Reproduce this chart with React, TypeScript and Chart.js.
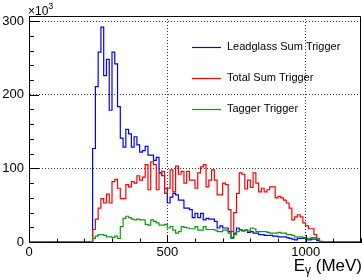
import React, { useEffect, useRef } from "react";
import { Chart, registerables } from "chart.js";

Chart.register(...registerables);

// ---- data (counts in units of 10^3, 10 MeV bins starting at 230 MeV) ----
const BIN_WIDTH_MEV = 10;
const FIRST_BIN_MEV = 230;
const X_MIN = 0;
const X_MAX = 1200;
const Y_MIN = 0;
const Y_MAX = 307;
const X_TICKS = [0, 500, 1000];
const Y_TICKS = [0, 100, 200, 300];
const SERIES_LABELS = ["Leadglass Sum Trigger", "Total Sum Trigger", "Tagger Trigger"];
const SERIES_COLORS = ["#0000ff", "#ff0000", "#109a10"];
const Y_EXPONENT_LABEL = "×10";
const Y_EXPONENT = "3";
const X_TITLE_MAIN = "E";
const X_TITLE_SUB = "γ";
const X_TITLE_UNIT = " (MeV)";

const leadglass = [
  127, 211, 258, 292, 226, 248, 179, 258, 242, 184, 141, 129, 153, 147, 129, 143,
  132, 122, 124, 130, 118, 118, 111, 115, 94, 90, 73, 53, 61, 66, 64, 57,
  57, 46, 46, 44, 33, 39, 33, 39, 30, 32, 31, 31, 28, 19, 22, 19,
  19, 14, 6, 12, 19, 17, 15, 16, 13, 14, 12, 12, 10, 10, 9, 9,
  9, 8, 8, 7, 7, 7, 6, 5, 4, 3, 5, 5, 5, 3, 3, 4,
  4, 2, 0,
];

const totalSum = [
  17, 31, 46, 59, 53, 65, 53, 82, 85, 73, 59, 59, 78, 75, 82, 80,
  90, 84, 88, 105, 71, 109, 105, 71, 94, 96, 66, 73, 98, 68, 103, 92,
  96, 80, 96, 84, 84, 73, 94, 102, 105, 75, 84, 98, 84, 64, 64, 80,
  78, 44, 14, 40, 66, 94, 92, 72, 84, 74, 94, 80, 68, 73, 68, 71,
  75, 75, 60, 62, 60, 57, 53, 46, 30, 34, 37, 34, 26, 22, 18, 18,
  10, 4, 1,
];

const tagger = [
  5, 8, 10, 10, 9, 7, 7, 6, 8, 5, 21, 32, 35, 33, 31, 30,
  31, 30, 30, 24, 23, 30, 28, 26, 23, 23, 24, 19, 21, 16, 12, 14,
  21, 20, 19, 18, 18, 21, 16, 16, 21, 17, 17, 17, 16, 14, 14, 16,
  16, 12, 5, 10, 14, 16, 15, 16, 15, 19, 18, 14, 14, 14, 14, 13,
  12, 12, 12, 13, 12, 12, 10, 10, 9, 7, 7, 7, 6, 5, 5, 6,
  6, 5, 0,
];

const FONT = "'Liberation Sans', Arial, Helvetica, sans-serif";

// histogram -> step points at left bin edges
function toPoints(vals: number[]) {
  const pts: { x: number; y: number }[] = [{ x: X_MIN, y: 0 }];
  vals.forEach((v, i) => pts.push({ x: FIRST_BIN_MEV + i * BIN_WIDTH_MEV, y: v }));
  pts.push({ x: FIRST_BIN_MEV + vals.length * BIN_WIDTH_MEV, y: 0 });
  pts.push({ x: X_MAX, y: 0 });
  return pts;
}

const rootStylePlugin = {
  id: "rootStyle",
  afterDraw(chart: any) {
    const { ctx, chartArea: a, scales } = chart;
    const xs = scales.x;
    const ys = scales.y;
    ctx.save();
    ctx.strokeStyle = "#000";
    ctx.lineWidth = 1;
    ctx.setLineDash([]);
    // frame top & right
    ctx.beginPath();
    ctx.moveTo(Math.round(a.left) + 0.5, Math.round(a.top) + 0.5);
    ctx.lineTo(Math.round(a.right) - 0.5, Math.round(a.top) + 0.5);
    ctx.lineTo(Math.round(a.right) - 0.5, Math.round(a.bottom) + 0.5);
    ctx.stroke();
    // x ticks (inward)
    ctx.beginPath();
    for (let v = X_MIN; v <= X_MAX; v += 100) {
      const px = Math.round(xs.getPixelForValue(v)) + 0.5;
      const len = v % 500 === 0 ? 7 : 3.5;
      ctx.moveTo(px, a.bottom);
      ctx.lineTo(px, a.bottom - len);
    }
    // y ticks (inward)
    for (let v = Y_MIN; v <= 300; v += 20) {
      const py = Math.round(ys.getPixelForValue(v)) + 0.5;
      const len = v % 100 === 0 ? 10 : 5;
      ctx.moveTo(a.left, py);
      ctx.lineTo(a.left + len, py);
    }
    ctx.stroke();

    // legend
    const lx0 = 192;
    const lx1 = 221;
    chart.data.datasets.forEach((ds: any, i: number) => {
      const yy = 47 + i * 31;
      ctx.strokeStyle = ds.borderColor;
      ctx.lineWidth = 1.2;
      ctx.beginPath();
      ctx.moveTo(lx0, yy + 0.5);
      ctx.lineTo(lx1, yy + 0.5);
      ctx.stroke();
      ctx.fillStyle = "#000";
      ctx.font = `11px ${FONT}`;
      ctx.textBaseline = "middle";
      ctx.textAlign = "left";
      ctx.fillText(ds.label, 227, yy);
    });

    // exponent label
    ctx.fillStyle = "#000";
    ctx.textBaseline = "alphabetic";
    ctx.textAlign = "left";
    ctx.font = `12px ${FONT}`;
    ctx.fillText(Y_EXPONENT_LABEL, 28, 15);
    const w10 = ctx.measureText(Y_EXPONENT_LABEL).width;
    ctx.font = `9px ${FONT}`;
    ctx.fillText(Y_EXPONENT, 28 + w10, 9);

    // x axis title
    ctx.font = `17px ${FONT}`;
    const wE = ctx.measureText(X_TITLE_MAIN).width;
    const wU = ctx.measureText(X_TITLE_UNIT).width;
    ctx.font = `12px ${FONT}`;
    const wG = ctx.measureText(X_TITLE_SUB).width;
    const start = 362 - (wE + wG + wU);
    ctx.font = `17px ${FONT}`;
    ctx.fillText(X_TITLE_MAIN, start, 271);
    ctx.font = `12px ${FONT}`;
    ctx.fillText(X_TITLE_SUB, start + wE, 274);
    ctx.font = `17px ${FONT}`;
    ctx.fillText(X_TITLE_UNIT, start + wE + wG, 271);
    ctx.restore();
  },
};

const gridColor = (c: any) =>
  c.tick && c.tick.value === 0 ? "rgba(0,0,0,0)" : "#333";

export default function App() {
  const ref = useRef<HTMLCanvasElement | null>(null);

  useEffect(() => {
    if (!ref.current) return;
    const series = [leadglass, totalSum, tagger];
    const chart = new Chart(ref.current, {
      type: "line",
      data: {
        datasets: series.map((vals, i) => ({
          label: SERIES_LABELS[i],
          data: toPoints(vals),
          borderColor: SERIES_COLORS[i],
          backgroundColor: SERIES_COLORS[i],
          borderWidth: 1.2,
          stepped: true,
          pointRadius: 0,
          fill: false,
          order: 3 - i,
        })),
      },
      options: {
        responsive: false,
        animation: false,
        devicePixelRatio: 1,
        layout: { padding: { top: 16, right: 1, left: 0, bottom: 0 } },
        plugins: { legend: { display: false }, tooltip: { enabled: false } },
        scales: {
          x: {
            type: "linear",
            min: X_MIN,
            max: X_MAX,
            afterFit: (s: any) => {
              s.height = 38;
            },
            afterBuildTicks: (s: any) => {
              s.ticks = X_TICKS.map((v) => ({ value: v }));
            },
            ticks: {
              padding: 3,
              color: "#000",
              font: { family: FONT, size: 13 },
              maxRotation: 0,
              autoSkip: false,
              callback: (v: any) => String(v),
            },
            grid: { drawTicks: false, color: gridColor, lineWidth: 1 },
            border: { display: true, color: "#000", width: 1, dash: [1, 2] },
          },
          y: {
            type: "linear",
            min: Y_MIN,
            max: Y_MAX,
            afterFit: (s: any) => {
              s.width = 29;
            },
            afterBuildTicks: (s: any) => {
              s.ticks = Y_TICKS.map((v) => ({ value: v }));
            },
            ticks: {
              padding: 5,
              color: "#000",
              font: { family: FONT, size: 13 },
              autoSkip: false,
              callback: (v: any) => String(v),
            },
            grid: { drawTicks: false, color: gridColor, lineWidth: 1 },
            border: { display: true, color: "#000", width: 1, dash: [1, 2] },
          },
        },
      },
      plugins: [rootStylePlugin],
    });
    return () => chart.destroy();
  }, []);

  return (
    <div style={{ position: "fixed", left: 0, top: 0, width: 362, height: 280, background: "#fff" }}>
      <canvas ref={ref} width={362} height={280} style={{ display: "block" }} />
    </div>
  );
}
